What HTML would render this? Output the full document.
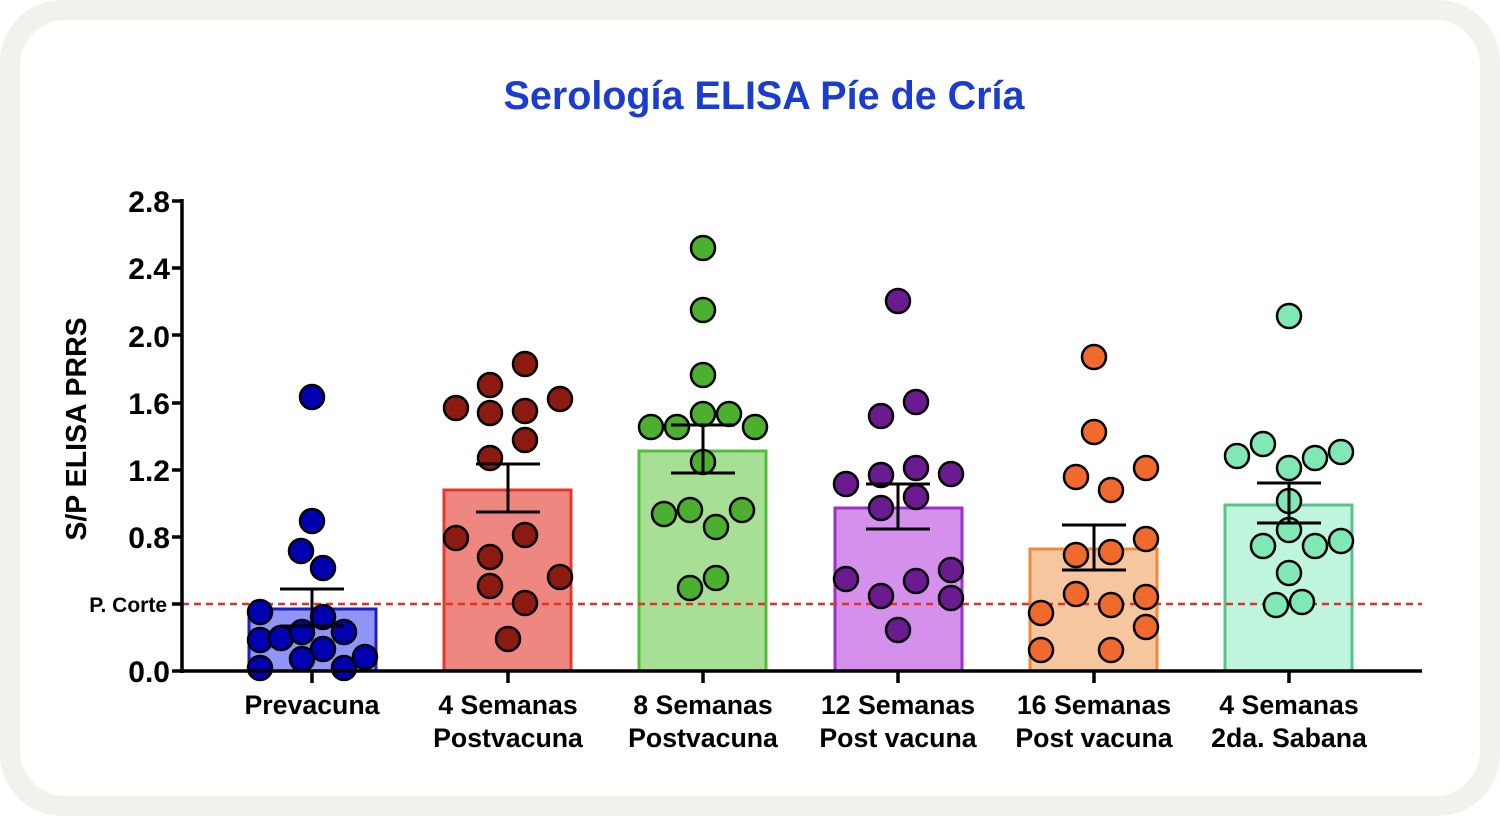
<!DOCTYPE html>
<html><head><meta charset="utf-8"><style>
html,body{margin:0;padding:0;background:#fff;}
svg{display:block;font-family:"Liberation Sans",Arial,sans-serif;}
</style></head><body>
<svg width="1500" height="816" viewBox="0 0 1500 816" xmlns="http://www.w3.org/2000/svg">
<rect x="0" y="0" width="1500" height="816" rx="62" fill="#f2f1ed"/>
<rect x="20" y="20" width="1460" height="776" rx="45" fill="#fff"/>
<text x="764" y="109" text-anchor="middle" font-size="39.5" font-weight="bold" fill="#1a3ccf">Serología ELISA Píe de Cría</text>
<text transform="translate(86,429) rotate(-90)" text-anchor="middle" font-size="28.5" font-weight="bold" fill="#000">S/P ELISA PRRS</text>
<g font-size="30" font-weight="bold" text-anchor="end" fill="#000">
<text x="170" y="682">0.0</text>
<text x="170" y="548">0.8</text>
<text x="170" y="481">1.2</text>
<text x="170" y="414">1.6</text>
<text x="170" y="347">2.0</text>
<text x="170" y="279">2.4</text>
<text x="170" y="212">2.8</text>
</g>
<text x="167" y="612" text-anchor="end" font-size="21" font-weight="bold">P. Corte</text>
<!-- bars -->
<rect x="249" y="609" width="127" height="62" fill="#8f95f5" stroke="#1b1fc9" stroke-width="3"/>
<rect x="444" y="490" width="127" height="181" fill="#ee8780" stroke="#e03a2c" stroke-width="3"/>
<rect x="639" y="451" width="127" height="220" fill="#a8df96" stroke="#4fbf3a" stroke-width="3"/>
<rect x="835" y="508" width="127" height="163" fill="#d490ea" stroke="#9b2fd0" stroke-width="3"/>
<rect x="1030" y="549" width="127" height="122" fill="#f6c79e" stroke="#ef8a3a" stroke-width="3"/>
<rect x="1225" y="505" width="127" height="166" fill="#bff5dc" stroke="#55c48a" stroke-width="3"/>
<!-- cut line -->
<line x1="182" y1="604" x2="1422" y2="604" stroke="#e5302a" stroke-width="2.5" stroke-dasharray="7,5"/>
<!-- dots -->
<g stroke="#000" stroke-width="2.5">
<g fill="#0000b0">
<circle cx="312" cy="397" r="12"/><circle cx="312" cy="521" r="12"/><circle cx="301" cy="551" r="12"/><circle cx="323" cy="568" r="12"/>
<circle cx="260" cy="612" r="12"/><circle cx="323" cy="617" r="12"/><circle cx="260" cy="640" r="12"/><circle cx="281" cy="638" r="12"/>
<circle cx="302" cy="632" r="12"/><circle cx="344" cy="632" r="12"/><circle cx="323" cy="649" r="12"/><circle cx="302" cy="659" r="12"/>
<circle cx="260" cy="668" r="12"/><circle cx="344" cy="668" r="12"/><circle cx="365" cy="657" r="12"/>
</g>
<g fill="#8b1a10">
<circle cx="525" cy="364" r="12"/><circle cx="490" cy="385" r="12"/><circle cx="456" cy="408" r="12"/><circle cx="490" cy="413" r="12"/>
<circle cx="525" cy="411" r="12"/><circle cx="560" cy="399" r="12"/><circle cx="525" cy="440" r="12"/><circle cx="490" cy="458" r="12"/>
<circle cx="456" cy="538" r="12"/><circle cx="525" cy="535" r="12"/><circle cx="490" cy="557" r="12"/><circle cx="560" cy="577" r="12"/>
<circle cx="490" cy="586" r="12"/><circle cx="525" cy="603" r="12"/><circle cx="508" cy="639" r="12"/>
</g>
<g fill="#4caf30">
<circle cx="703" cy="248" r="12"/><circle cx="703" cy="310" r="12"/><circle cx="703" cy="375" r="12"/><circle cx="651" cy="427" r="12"/>
<circle cx="677" cy="427" r="12"/><circle cx="703" cy="414" r="12"/><circle cx="729" cy="414" r="12"/><circle cx="755" cy="427" r="12"/>
<circle cx="703" cy="462" r="12"/><circle cx="664" cy="514" r="12"/><circle cx="690" cy="510" r="12"/><circle cx="716" cy="527" r="12"/>
<circle cx="742" cy="510" r="12"/><circle cx="716" cy="578" r="12"/><circle cx="690" cy="588" r="12"/>
</g>
<g fill="#6a1b8f">
<circle cx="898" cy="301" r="12"/><circle cx="881" cy="416" r="12"/><circle cx="916" cy="402" r="12"/><circle cx="846" cy="484" r="12"/>
<circle cx="881" cy="475" r="12"/><circle cx="916" cy="468" r="12"/><circle cx="951" cy="474" r="12"/><circle cx="881" cy="508" r="12"/>
<circle cx="916" cy="497" r="12"/><circle cx="846" cy="579" r="12"/><circle cx="916" cy="581" r="12"/><circle cx="951" cy="570" r="12"/>
<circle cx="881" cy="596" r="12"/><circle cx="951" cy="598" r="12"/><circle cx="898" cy="630" r="12"/>
</g>
<g fill="#f06a2e">
<circle cx="1094" cy="357" r="12"/><circle cx="1094" cy="432" r="12"/><circle cx="1076" cy="477" r="12"/><circle cx="1111" cy="490" r="12"/>
<circle cx="1146" cy="468" r="12"/><circle cx="1076" cy="555" r="12"/><circle cx="1111" cy="552" r="12"/><circle cx="1146" cy="539" r="12"/>
<circle cx="1041" cy="613" r="12"/><circle cx="1076" cy="594" r="12"/><circle cx="1111" cy="605" r="12"/><circle cx="1146" cy="597" r="12"/>
<circle cx="1146" cy="627" r="12"/><circle cx="1041" cy="650" r="12"/><circle cx="1111" cy="650" r="12"/>
</g>
<g fill="#7fe8b5">
<circle cx="1289" cy="316" r="12"/><circle cx="1237" cy="456" r="12"/><circle cx="1263" cy="444" r="12"/><circle cx="1289" cy="468" r="12"/>
<circle cx="1315" cy="458" r="12"/><circle cx="1341" cy="452" r="12"/><circle cx="1289" cy="501" r="12"/><circle cx="1289" cy="530" r="12"/>
<circle cx="1263" cy="546" r="12"/><circle cx="1315" cy="546" r="12"/><circle cx="1341" cy="541" r="12"/><circle cx="1289" cy="573" r="12"/>
<circle cx="1276" cy="605" r="12"/><circle cx="1302" cy="602" r="12"/>
</g>
</g>
<!-- error bars -->
<g stroke="#000" stroke-width="3" fill="none">
<path d="M312 589V626M280 589H344M280 626H344"/>
<path d="M508 464V512M476 464H540M476 512H540"/>
<path d="M703 425V473M671 425H735M671 473H735"/>
<path d="M898 484V529M866 484H930M866 529H930"/>
<path d="M1094 525V570M1062 525H1126M1062 570H1126"/>
<path d="M1289 483V523M1257 483H1321M1257 523H1321"/>
</g>
<!-- axes -->
<g stroke="#000" stroke-width="3.5" fill="none">
<path d="M182 199V673M180 671H1422"/>
<path d="M172 201H182M172 268H182M172 335H182M172 403H182M172 470H182M172 537H182M172 604H182M172 671H182"/>
<path d="M312 671V683M508 671V683M703 671V683M898 671V683M1094 671V683M1289 671V683"/>
</g>
<g font-size="26.7" font-weight="bold" text-anchor="middle" fill="#000">
<text x="312" y="714">Prevacuna</text>
<text x="508" y="714">4 Semanas</text><text x="508" y="747">Postvacuna</text>
<text x="703" y="714">8 Semanas</text><text x="703" y="747">Postvacuna</text>
<text x="898" y="714">12 Semanas</text><text x="898" y="747">Post vacuna</text>
<text x="1094" y="714">16 Semanas</text><text x="1094" y="747">Post vacuna</text>
<text x="1289" y="714">4 Semanas</text><text x="1289" y="747">2da. Sabana</text>
</g>
</svg>
</body></html>
